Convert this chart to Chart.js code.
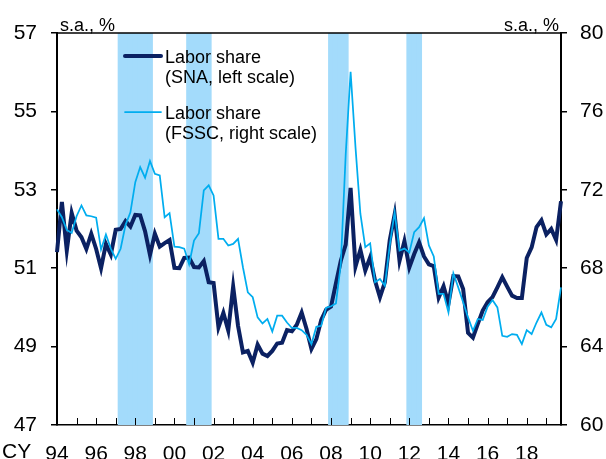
<!DOCTYPE html>
<html>
<head>
<meta charset="utf-8">
<script src="https://cdn.jsdelivr.net/npm/chart.js@4.4.1/dist/chart.umd.min.js"></script>
<style>
  html, body { margin: 0; padding: 0; background: #fff; }
  #wrap { width: 606px; height: 459px; }
</style>
</head>
<body>
<div id="wrap"><canvas id="laborChart" width="606" height="459"></canvas></div>
<script>
// quarterly, 1994Q1 .. 2019Q4
const firstYear = 1994;
const lastYear = 2019;
const quarterLabels = [];
for (let y = firstYear; y <= lastYear; y++) {
    for (let q = 1; q <= 4; q++) quarterLabels.push(y + 'Q' + q);
}

// year tick labels (shown at Q1)
const tickYears = ['1994', '1996', '1998', '2000', '2002', '2004', '2006', '2008', '2010', '2012', '2014', '2016', '2018'];
const tickText = ['94', '96', '98', '00', '02', '04', '06', '08', '10', '12', '14', '16', '18'];

// Labor share (SNA), left scale
const snaShare = [
    51.41, 52.69, 51.45, 52.41, 51.96, 51.79, 51.49, 51.88, 51.49, 51.00,
    51.62, 51.35, 51.98, 52.00, 52.20, 52.06, 52.36, 52.35, 51.94, 51.34,
    51.88, 51.55, 51.64, 51.72, 51.01, 51.00, 51.26, 51.27, 51.03, 51.02,
    51.18, 50.64, 50.62, 49.49, 49.86, 49.41, 50.53, 49.53, 48.85, 48.89,
    48.59, 49.05, 48.82, 48.76, 48.89, 49.08, 49.10, 49.42, 49.39, 49.56,
    49.87, 49.45, 48.94, 49.19, 49.68, 49.94, 50.02, 50.61, 51.19, 51.60,
    53.05, 51.04, 51.47, 50.94, 51.28, 50.68, 50.26, 50.64, 51.71, 52.37,
    51.19, 51.69, 51.02, 51.36, 51.66, 51.30, 51.10, 51.05, 50.25, 50.54,
    50.10, 50.80, 50.79, 50.47, 49.35, 49.23, 49.58, 49.92, 50.13, 50.26,
    50.51, 50.77, 50.53, 50.30, 50.24, 50.24, 51.26, 51.53, 52.05, 52.22,
    51.86, 52.00, 51.72, 52.71
];

// Labor share (FSSC), right scale
const fsscShare = [
    71.00, 70.60, 69.95, 69.80, 70.65, 71.20, 70.69, 70.65, 70.58, 68.95,
    69.72, 69.00, 68.48, 68.99, 70.20, 70.85, 72.39, 73.16, 72.62, 73.47,
    72.82, 72.74, 70.60, 70.81, 69.10, 69.07, 69.00, 68.20, 69.41, 69.79,
    71.97, 72.23, 71.71, 69.50, 69.50, 69.16, 69.24, 69.50, 68.05, 66.77,
    66.52, 65.49, 65.18, 65.41, 64.77, 65.58, 65.58, 65.23, 64.95, 64.95,
    64.84, 64.60, 64.13, 65.01, 65.06, 65.98, 66.06, 66.20, 68.20, 73.80,
    78.02, 74.18, 70.78, 69.07, 69.27, 67.28, 67.45, 67.11, 69.16, 70.86,
    68.90, 69.00, 68.80, 69.84, 70.09, 70.55, 69.16, 68.60, 66.69, 66.69,
    65.74, 67.74, 67.02, 66.26, 65.49, 64.81, 65.41, 65.36, 66.04, 66.38,
    66.00, 64.55, 64.50, 64.64, 64.60, 64.13, 64.84, 64.64, 65.23, 65.74,
    65.11, 64.98, 65.41, 67.02
];

// recession periods (shaded)
const recessionStart = ['1997Q2', '2000Q4', '2008Q1', '2012Q1'];
const recessionEnd = ['1998Q4', '2001Q4', '2008Q4', '2012Q3'];

const recessionFlags = quarterLabels.map((q, i) => {
    for (let k = 0; k < recessionStart.length; k++) {
        if (i >= quarterLabels.indexOf(recessionStart[k]) && i <= quarterLabels.indexOf(recessionEnd[k])) return 1;
    }
    return null;
});

const NAVY = '#0B2162';
const CYAN = '#00ADEF';
const BAND = '#A3DBFB';
const FONT = '"Liberation Sans", Arial, sans-serif';
const XPAD = 9;

Chart.defaults.font.family = FONT;
Chart.defaults.color = '#000';

// frame top line, inward year ticks, unit labels, legend
const decor = {
    id: 'decor',
    afterDraw(chart) {
        const { ctx, chartArea: a } = chart;
        const xs = chart.scales.x;
        ctx.save();
        ctx.strokeStyle = '#000';
        ctx.lineWidth = 1.5;
        ctx.beginPath();
        ctx.moveTo(a.left, a.top);
        ctx.lineTo(a.right, a.top);
        ctx.stroke();

        ctx.lineWidth = 1;
        ctx.beginPath();
        quarterLabels.forEach((q, i) => {
            if (i > 0 && q.endsWith('Q1')) {
                const px = Math.round(xs.getPixelForValue(i)) + 0.5;
                ctx.moveTo(px, a.bottom);
                ctx.lineTo(px, a.bottom - 7);
            }
        });
        ctx.stroke();

        // "CY" prefix before first year label
        ctx.fillStyle = '#000';
        ctx.font = '21px ' + FONT;
        ctx.textBaseline = 'middle';
        ctx.textAlign = 'left';
        ctx.fillText('CY', 2, xs.top + 27.6);

        // unit labels
        ctx.font = '18px ' + FONT;
        ctx.textBaseline = 'alphabetic';
        ctx.fillText('s.a., %', 60, 31);
        ctx.textAlign = 'right';
        ctx.fillText('s.a., %', 559, 31);

        // legend
        ctx.textAlign = 'left';
        ctx.lineCap = 'round';
        ctx.strokeStyle = NAVY;
        ctx.lineWidth = 4;
        ctx.beginPath();
        ctx.moveTo(125, 56);
        ctx.lineTo(161, 56);
        ctx.stroke();
        ctx.strokeStyle = CYAN;
        ctx.lineWidth = 1.75;
        ctx.beginPath();
        ctx.moveTo(125, 112);
        ctx.lineTo(161, 112);
        ctx.stroke();
        ctx.fillText('Labor share', 165, 63);
        ctx.fillText('(SNA, left scale)', 165, 83);
        ctx.fillText('Labor share', 165, 119);
        ctx.fillText('(FSSC, right scale)', 165, 139);
        ctx.restore();
    }
};

new Chart(document.getElementById('laborChart'), {
    type: 'line',
    data: {
        labels: quarterLabels,
        datasets: [
            {
                type: 'bar',
                label: 'Recession',
                data: recessionFlags,
                yAxisID: 'yB',
                backgroundColor: BAND,
                borderWidth: 0,
                barPercentage: 1.2,
                categoryPercentage: 1,
                order: 3
            },
            {
                label: 'Labor share (SNA, left scale)',
                data: snaShare,
                yAxisID: 'yL',
                borderColor: NAVY,
                borderWidth: 4,
                pointRadius: 0,
                tension: 0,
                order: 2
            },
            {
                label: 'Labor share (FSSC, right scale)',
                data: fsscShare,
                yAxisID: 'yR',
                borderColor: CYAN,
                borderWidth: 1.75,
                pointRadius: 0,
                tension: 0,
                order: 1
            }
        ]
    },
    options: {
        responsive: false,
        animation: false,
        layout: { padding: { top: 33, left: 0, right: 0, bottom: 0 } },
        plugins: { legend: { display: false }, tooltip: { enabled: false } },
        scales: {
            x: {
                type: 'category',
                offset: false,
                grid: { display: false },
                border: { display: true, color: '#000', width: 1.5 },
                afterFit: s => { s.height = 34; },
                ticks: {
                    autoSkip: false,
                    maxRotation: 0,
                    minRotation: 0,
                    padding: XPAD,
                    font: { size: 21 },
                    callback: (v, i) => {
                        const k = tickYears.indexOf(quarterLabels[i].slice(0, 4));
                        return (k >= 0 && quarterLabels[i].endsWith('Q1')) ? tickText[k] : '';
                    }
                }
            },
            yL: {
                position: 'left',
                min: 47,
                max: 57,
                afterFit: s => { s.width = 57; },
                grid: { drawOnChartArea: false, tickLength: 6, color: '#000', lineWidth: 1.5 },
                border: { display: true, color: '#000', width: 2 },
                ticks: { stepSize: 2, padding: 14, font: { size: 21 } }
            },
            yR: {
                position: 'right',
                min: 60,
                max: 80,
                afterFit: s => { s.width = 45; },
                grid: { drawOnChartArea: false, tickLength: 6, color: '#000', lineWidth: 1.5 },
                border: { display: true, color: '#000', width: 2 },
                ticks: { stepSize: 4, padding: 13, font: { size: 21 } }
            },
            yB: {
                display: false,
                min: 0,
                max: 1
            }
        }
    },
    plugins: [decor]
});
</script>
</body>
</html>
